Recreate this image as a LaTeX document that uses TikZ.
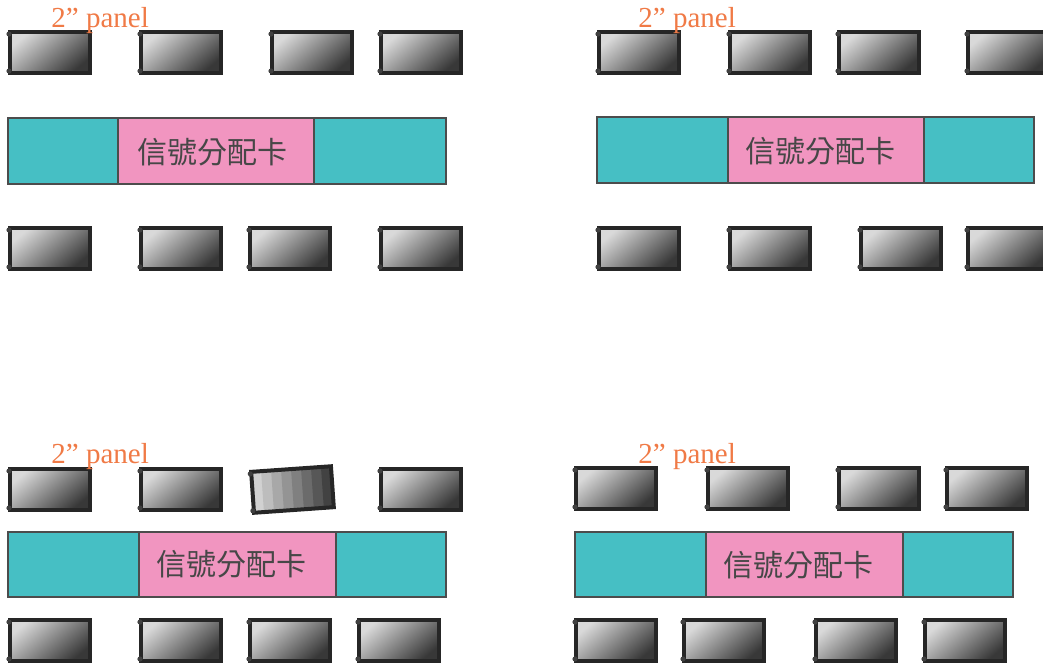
\documentclass[tikz,border=0pt]{standalone}
\usepackage{fontspec}
\usepackage{xcolor}
\usepackage{tikz}
\setmainfont{Liberation Serif}
\newfontfamily\cjkfont{Noto Sans CJK TC}
\definecolor{boardcyan}{RGB}{70,191,196}
\definecolor{cardpink}{RGB}{241,149,192}
\definecolor{labelorange}{RGB}{240,122,70}
\tikzset{
  panelshade/.style={top color=black!15,bottom color=black!78,shading angle=40},
  panelframe/.style={draw=black!85,line width=2pt,panelshade},
  panel/.pic={
    \draw[panelframe] (2,2) rectangle (82,43);
    \fill[black!75] (1,4) circle (1.3pt) (1,41) circle (1.3pt);
  },
  tiltpanel/.pic={
    \fill[black!18] (2,2) rectangle (12.6,43);
    \fill[black!26] (12,2) rectangle (22.6,43);
    \fill[black!34] (22,2) rectangle (32.6,43);
    \fill[black!42] (32,2) rectangle (42.6,43);
    \fill[black!50] (42,2) rectangle (52.6,43);
    \fill[black!58] (52,2) rectangle (62.6,43);
    \fill[black!66] (62,2) rectangle (72.6,43);
    \fill[black!74] (72,2) rectangle (82,43);
    \draw[black!85,line width=2pt] (2,2) rectangle (82,43);
    \fill[black!75] (1,4) circle (1.3pt) (1,41) circle (1.3pt);
  },
  board/.style={draw=black!70,line width=0.6pt,fill=boardcyan},
  card/.style={draw=black!70,line width=0.6pt,fill=cardpink},
  cardtext/.style={inner sep=0pt,text=black!72,font=\cjkfont\fontsize{15}{18}\selectfont},
  lbl/.style={inner sep=0pt,anchor=base west,text=labelorange,font=\fontsize{14.5}{16}\selectfont}
}
\begin{document}
\begin{tikzpicture}[x=0.5pt,y=-0.5pt]
\useasboundingbox (0,0) rectangle (1043,665);
\clip (0,0) rectangle (1043,665);
% upper left
\pic at (8,30) {panel};
\pic at (139,30) {panel};
\pic at (270,30) {panel};
\pic at (379,30) {panel};
\draw[board] (8,118) rectangle (446,184);
\draw[card] (118,118) rectangle (314,184);
\node[cardtext] (sigA) at (212,152) {信號分配卡};
\pic at (8,226) {panel};
\pic at (139,226) {panel};
\pic at (248,226) {panel};
\pic at (379,226) {panel};
\node[lbl] (lblA) at (51,27) {2” panel};
% upper right
\pic at (597,30) {panel};
\pic at (728,30) {panel};
\pic at (837,30) {panel};
\pic at (966,30) {panel};
\draw[board] (597,117) rectangle (1034,183);
\draw[card] (728,117) rectangle (924,183);
\node[cardtext] (sigB) at (820,151) {信號分配卡};
\pic at (597,226) {panel};
\pic at (728,226) {panel};
\pic at (859,226) {panel};
\pic at (966,226) {panel};
\node[lbl] (lblB) at (638,27) {2” panel};
% lower left
\pic at (8,467) {panel};
\pic at (139,467) {panel};
\pic[rotate=4] at (249,470) {tiltpanel};
\pic at (379,467) {panel};
\draw[board] (8,532) rectangle (446,597);
\draw[card] (139,532) rectangle (336,597);
\node[cardtext] (sigC) at (231,564) {信號分配卡};
\pic at (8,618) {panel};
\pic at (139,618) {panel};
\pic at (248,618) {panel};
\pic at (357,618) {panel};
\node[lbl] (lblC) at (51,463) {2” panel};
% lower right
\pic at (574,466) {panel};
\pic at (706,466) {panel};
\pic at (837,466) {panel};
\pic at (945,466) {panel};
\draw[board] (575,532) rectangle (1013,597);
\draw[card] (706,532) rectangle (903,597);
\node[cardtext] (sigD) at (798,565) {信號分配卡};
\pic at (574,618) {panel};
\pic at (682,618) {panel};
\pic at (814,618) {panel};
\pic at (923,618) {panel};
\node[lbl] (lblD) at (638,463) {2” panel};
\end{tikzpicture}
\end{document}
